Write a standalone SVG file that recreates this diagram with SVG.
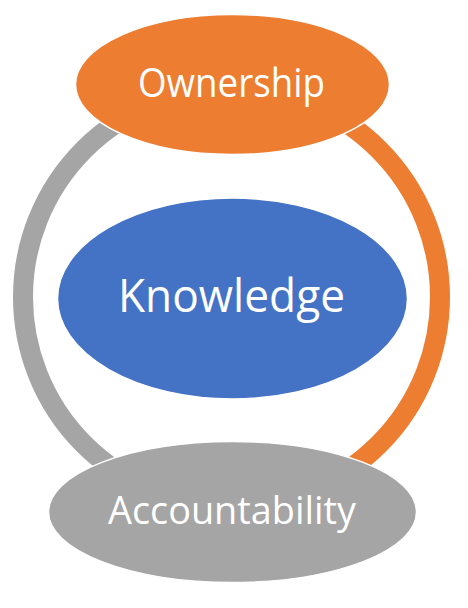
<svg xmlns="http://www.w3.org/2000/svg" width="468" height="608" viewBox="0 0 468 608">
<style>
.lbl{font-family:"Open Sans","Liberation Sans",sans-serif;fill:#ffffff;text-anchor:middle}
.node{stroke:#ffffff;stroke-width:1.5}
.arc{fill:none;stroke-width:20}
</style>
<rect width="468" height="608" fill="#ffffff"/>
<g id="connectors">
<path class="arc" stroke="#A5A5A5" d="M231.5,88.5 A208.5,208.5 0 0 0 231.5,505.5"/>
<path class="arc" stroke="#ED7D31" d="M231.5,88.5 A208.5,208.5 0 0 1 231.5,505.5"/>
</g>
<g id="ownership">
<ellipse class="node" cx="232.5" cy="84.5" rx="157" ry="70" fill="#ED7D31"/>
<text class="lbl" x="231.5" y="97" font-size="40" textLength="187" lengthAdjust="spacingAndGlyphs">Ownership</text>
</g>
<g id="knowledge">
<ellipse class="node" cx="232.5" cy="298.5" rx="175" ry="100.5" fill="#4472C4"/>
<text class="lbl" x="231.5" y="312" font-size="45" textLength="227" lengthAdjust="spacingAndGlyphs">Knowledge</text>
</g>
<g id="accountability">
<ellipse class="node" cx="232.5" cy="512" rx="184" ry="70.5" fill="#A5A5A5"/>
<text class="lbl" x="232" y="524" font-size="39" textLength="248" lengthAdjust="spacingAndGlyphs">Accountability</text>
</g>
</svg>
